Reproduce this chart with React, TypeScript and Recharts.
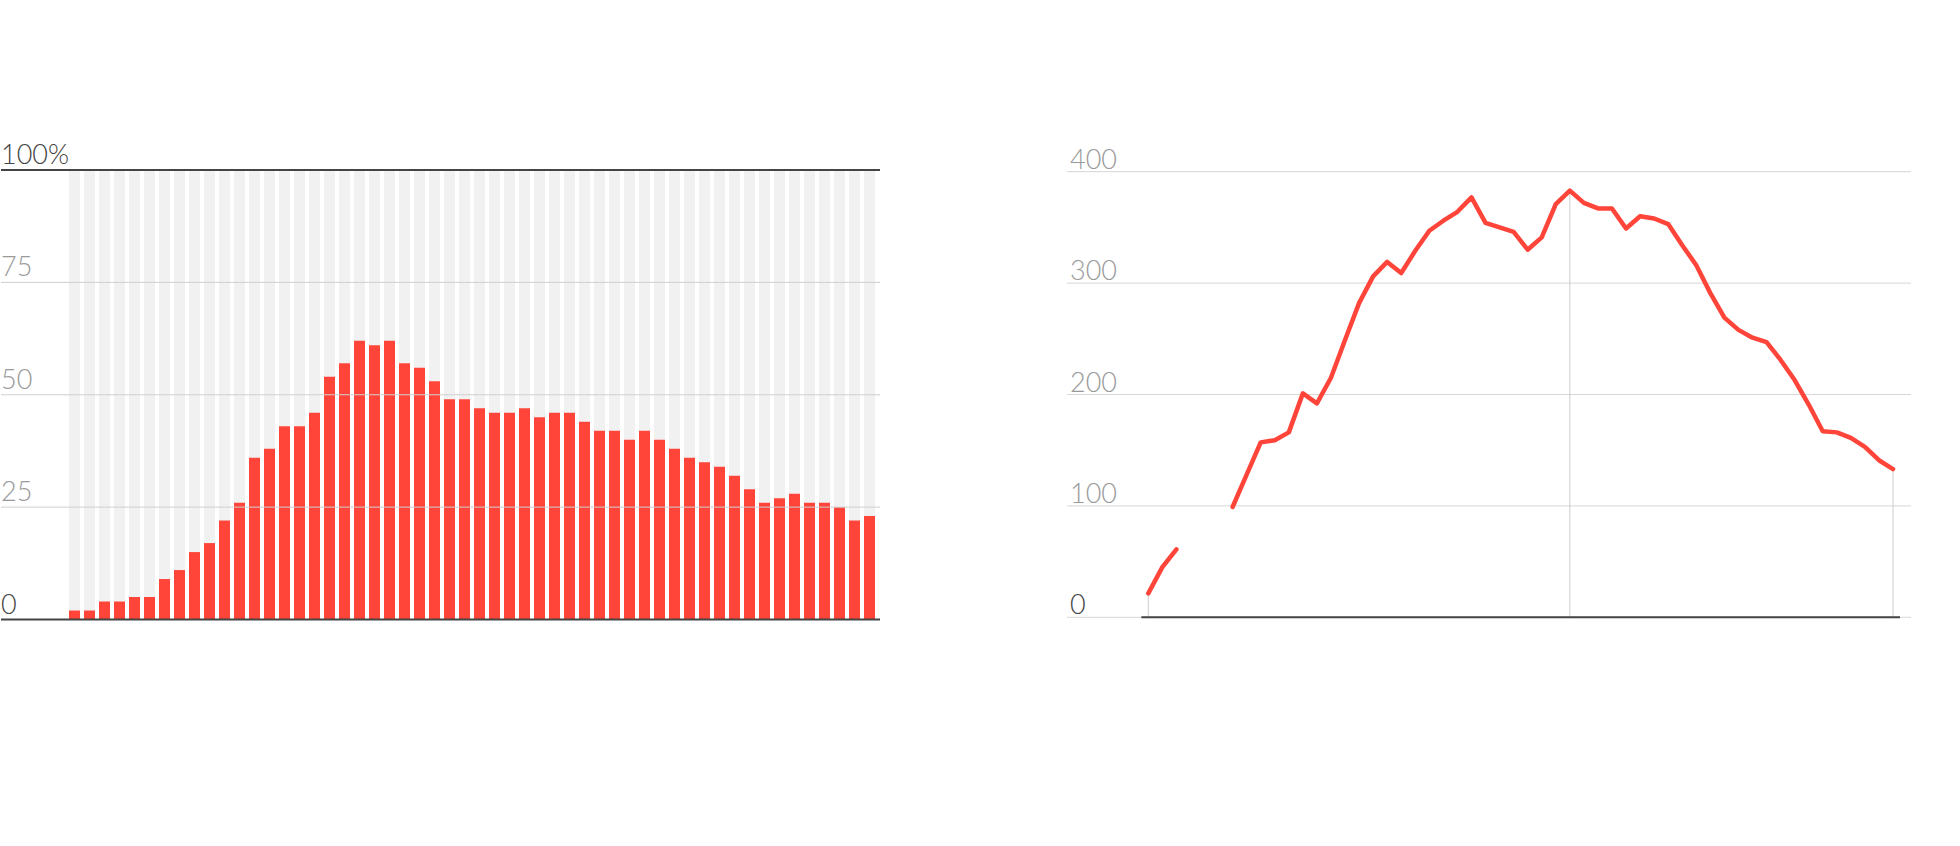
import React from 'react';
import { BarChart, Bar, LineChart, Line, XAxis, YAxis, ReferenceLine, CartesianGrid } from 'recharts';

// weekly categories shared by both panels
const WEEKS = [
    '1', '2', '3', '4', '5', '6', '7', '8', '9', '10',
    '11', '12', '13', '14', '15', '16', '17', '18', '19', '20',
    '21', '22', '23', '24', '25', '26', '27', '28', '29', '30',
    '31', '32', '33', '34', '35', '36', '37', '38', '39', '40',
    '41', '42', '43', '44', '45', '46', '47', '48', '49', '50',
    '51', '52', '53', '54',
];

// left panel, percent
const SHARE = [
    2, 2, 4, 4, 5, 5, 9, 11, 15, 17,
    22, 26, 36, 38, 43, 43, 46, 54, 57, 62,
    61, 62, 57, 56, 53, 49, 49, 47, 46, 46,
    47, 45, 46, 46, 44, 42, 42, 40, 42, 40,
    38, 36, 35, 34, 32, 29, 26, 27, 28, 26,
    26, 25, 22, 23,
];

// right panel, counts (null = no data)
const CASES = [
    21.5, 45, 61, null, null, null, 99, 128, 157, 159,
    166, 201, 192, 215, 249, 282, 306, 319, 309, 329,
    347, 356, 364, 377, 354, 350, 346, 330, 341, 371,
    383, 372, 367, 367, 349, 360, 358, 353, 334, 316,
    291, 269, 258, 251, 247, 231, 213, 191, 167, 166,
    161, 153, 141, 133,
];

const SHARE_TICKS = [0, 25, 50, 75, 100];
const SHARE_GRID = [25, 50, 75];
const CASE_TICKS = [0, 100, 200, 300, 400];
const DROP_WEEKS = ['1', '31', '54'];

const RED = '#ff443a';
const DARK = '#444444';
const GREY_TEXT = '#9a9a9a';
const GRID = '#cfcfcf';
const FONT = 'Lato, "Open Sans", sans-serif';

const shareData = WEEKS.map((week, i) => ({ week, share: SHARE[i] }));
const caseData = WEEKS.map((week, i) => ({ week, cases: CASES[i] }));

function ShareTick(props: any) {
    const { y, payload } = props;
    const v = payload.value;
    return (
        <text x={1} y={y - 6} fill={v === 0 || v === 100 ? DARK : GREY_TEXT}
            fontSize={27} fontFamily={FONT} fontWeight={300}>
            {v === 100 ? '100%' : v}
        </text>
    );
}

function CaseTick(props: any) {
    const { y, payload } = props;
    const v = payload.value;
    return (
        <text x={70} y={y - 3} fill={v === 0 ? DARK : GREY_TEXT}
            fontSize={27} fontFamily={FONT} fontWeight={300}>
            {v}
        </text>
    );
}

export default function App() {
    return (
        <div style={{ position: 'absolute', left: 0, top: 0, width: 1960, height: 846, background: '#fff' }}>
            <div style={{ position: 'absolute', left: 0, top: 0 }}>
                <BarChart width={900} height={700} data={shareData} barSize={11}
                    margin={{ top: 170, left: 0, right: 20, bottom: 80.5 }}>
                    <XAxis dataKey="week" hide padding={{ left: 66, right: 3 }} />
                    <YAxis domain={[0, 100]} ticks={SHARE_TICKS} width={1} interval={0}
                        axisLine={false} tickLine={false} tick={<ShareTick />} />
                    <Bar dataKey="share" fill={RED} background={{ fill: '#f1f1f1' }} isAnimationActive={false} />
                    {SHARE_GRID.map(v => (
                        <ReferenceLine key={v} y={v} stroke={GRID} strokeWidth={1} />
                    ))}
                    <ReferenceLine y={100} stroke={DARK} strokeWidth={2} />
                    <ReferenceLine y={0} stroke={DARK} strokeWidth={2} />
                </BarChart>
            </div>

            {/* grid + labels of right panel */}
            <div style={{ position: 'absolute', left: 1000, top: 0 }}>
                <LineChart width={960} height={700} data={caseData}
                    margin={{ top: 171.7, left: 66, right: 49, bottom: 82.7 }}>
                    <XAxis dataKey="week" hide />
                    <YAxis domain={[0, 400]} ticks={CASE_TICKS} width={1} interval={0}
                        axisLine={false} tickLine={false} tick={<CaseTick />} />
                    <CartesianGrid vertical={false} stroke="#d6d6d6" />
                    <Line dataKey="cases" stroke="none" dot={false} activeDot={false} isAnimationActive={false} />
                </LineChart>
            </div>

            {/* line of right panel */}
            <div style={{ position: 'absolute', left: 1000, top: 0 }}>
                <LineChart width={960} height={700} data={caseData}
                    margin={{ top: 171.7, left: 141.3, right: 60, bottom: 81.7 }}>
                    <XAxis dataKey="week" padding={{ left: 7, right: 7 }} height={1}
                        tick={false} tickLine={false} axisLine={{ stroke: DARK, strokeWidth: 2 }} />
                    <YAxis hide domain={[0, 400]} />
                    {DROP_WEEKS.map(w => (
                        <ReferenceLine key={w} stroke="#cccccc" strokeWidth={1}
                            segment={[{ x: w, y: 0 }, { x: w, y: caseData.find(d => d.week === w)!.cases as number }]} />
                    ))}
                    <Line dataKey="cases" stroke={RED} strokeWidth={4.5} dot={false}
                        strokeLinecap="round" strokeLinejoin="round" isAnimationActive={false} />
                </LineChart>
            </div>
        </div>
    );
}
